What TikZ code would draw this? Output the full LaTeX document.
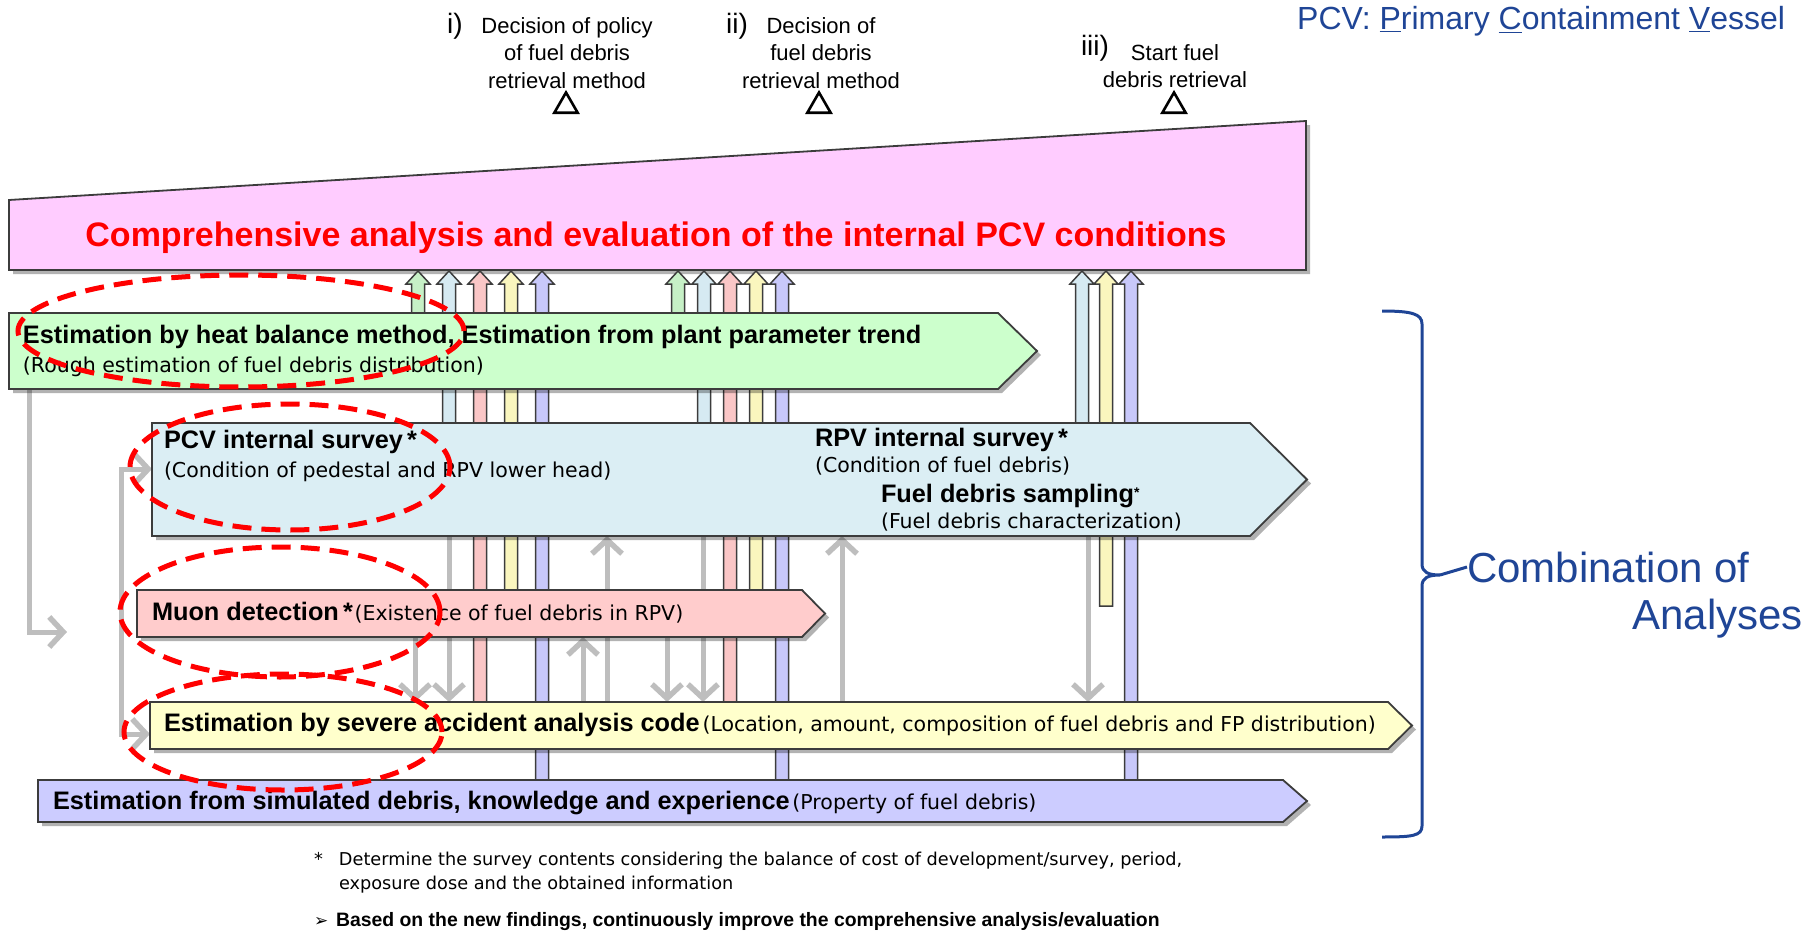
\documentclass[tikz,border=0pt]{standalone}
\usepackage{fontspec}
\setmainfont{Liberation Sans}
\newfontfamily\dvsans{DejaVu Sans}
\usetikzlibrary{arrows.meta,calc,shadows,shapes.geometric}
\definecolor{cTitle}{RGB}{255,204,255}
\definecolor{cGreen}{RGB}{204,255,204}
\definecolor{cBlue}{RGB}{219,238,244}
\definecolor{cPink}{RGB}{255,204,204}
\definecolor{cYellow}{RGB}{255,255,204}
\definecolor{cPurple}{RGB}{204,204,255}
\definecolor{sGreen}{RGB}{198,240,198}
\definecolor{sBlue}{RGB}{214,234,242}
\definecolor{sPink}{RGB}{250,198,198}
\definecolor{sYellow}{RGB}{250,246,190}
\definecolor{sPurple}{RGB}{200,200,250}
\definecolor{cGrayArrow}{RGB}{190,190,190}
\definecolor{cNavy}{RGB}{31,69,150}
\definecolor{cRed}{RGB}{255,0,0}
\definecolor{cEdge}{RGB}{60,60,60}
\newcommand\boxbold{\fontsize{25.3}{30}\selectfont\bfseries}
\newcommand\boxreg{\dvsans\fontsize{20.5}{24}\selectfont\mdseries}
\newcommand\shaftup[3]{%
  \path (#1 |- #2) coordinate (sb) (#1 |- pinkbot) coordinate (st);
  \draw[shaft=#3] ($(sb)+(-6.5,0)$) -- ($(st)+(-6.5,13)$) -- ($(st)+(-12,13)$) -- (st)
     -- ($(st)+(12,13)$) -- ($(st)+(6.5,13)$) -- ($(sb)+(6.5,0)$) -- cycle;}
\begin{document}
\begin{tikzpicture}[x=1pt,y=-1pt,
  boxedge/.style={draw=cEdge, line width=1.8pt, line join=miter},
  shadowed/.style={drop shadow={shadow xshift=4pt, shadow yshift=-4pt, opacity=0.3, fill=black}},
  boxbody/.style={inner sep=0pt, outer sep=0pt, rectangle},
  shaft/.style={draw=cEdge, line width=1.5pt, fill=#1},
  grayline/.style={draw=cGrayArrow, line width=5pt},
  graytip/.tip={Straight Barb[length=14pt,width=30pt,line width=5.5pt]},
  grayarrow/.style={grayline, -graytip},
  graytwo/.style={grayline, graytip-graytip},
  lbl/.style={inner sep=0pt, outer sep=0pt, anchor=west},
  hl/.style={ellipse, draw=cRed, line width=5pt, dash pattern=on 19pt off 10pt, inner sep=0pt},
  mile/.style={inner sep=0pt, align=center, anchor=north, font=\fontsize{22}{27.5}\selectfont},
  mnum/.style={inner sep=0pt, font=\fontsize{28}{30}\selectfont},
  tri/.style={regular polygon, regular polygon sides=3, draw=black, line width=2.6pt, minimum size=27pt, inner sep=0pt},
]
\useasboundingbox (0,0) rectangle (1810,931);

% invisible box bodies
\node[boxbody, minimum width=989pt, minimum height=76pt] (greenB) at (503.5,351) {};
\node[boxbody, minimum width=1098pt, minimum height=113pt] (blueB) at (701,479.5) {};
\node[boxbody, minimum width=665pt, minimum height=47pt] (muonB) at (469.5,613.5) {};
\node[boxbody, minimum width=1238pt, minimum height=47pt] (yellowB) at (769,725.5) {};
\node[boxbody, minimum width=1245pt, minimum height=42pt] (purpleB) at (660.5,801) {};

% title trapezoid
\coordinate (pTL) at (9,200);
\coordinate (pTR) at (1306,121);
\coordinate (pBR) at (1306,270);
\coordinate (pBL) at (9,270);
\coordinate (pinkbot) at (0,271);
\draw[boxedge, fill=cTitle, shadowed] (pTL) -- (pTR) -- (pBR) -- (pBL) -- cycle;
\node[inner sep=0pt, font=\fontsize{34}{40}\selectfont\bfseries, text=cRed] (title) at (656,238)
  {Comprehensive analysis and evaluation of the internal PCV conditions};

% columns of shafts
\coordinate (g1a) at (418,0); \coordinate (g1b) at (449,0); \coordinate (g1c) at (480,0);
\coordinate (g1d) at (511,0); \coordinate (g1e) at (542,0);
\coordinate (g2a) at (678,0); \coordinate (g2b) at (704,0); \coordinate (g2c) at (730,0);
\coordinate (g2d) at (756,0); \coordinate (g2e) at (782,0);
\coordinate (g3b) at (1082,0); \coordinate (g3d) at (1106,0); \coordinate (g3e) at (1131,0);
\coordinate (yEnd) at (0,606);

\shaftup{g1a}{greenB.center}{sGreen}
\shaftup{g1b}{blueB.center}{sBlue}
\shaftup{g1c}{yellowB.center}{sPink}
\shaftup{g1d}{muonB.center}{sYellow}
\shaftup{g1e}{purpleB.center}{sPurple}
\shaftup{g2a}{greenB.center}{sGreen}
\shaftup{g2b}{blueB.center}{sBlue}
\shaftup{g2c}{yellowB.center}{sPink}
\shaftup{g2d}{muonB.center}{sYellow}
\shaftup{g2e}{purpleB.center}{sPurple}
\shaftup{g3b}{blueB.center}{sBlue}
\shaftup{g3d}{yEnd}{sYellow}
\shaftup{g3e}{purpleB.center}{sPurple}

% gray arrows
\coordinate (a1) at (415,0); \coordinate (a2) at (449,0); \coordinate (a3) at (583,0);
\coordinate (a4) at (607,0); \coordinate (a5) at (667,0); \coordinate (a6) at (703,0);
\coordinate (a7) at (842,0); \coordinate (a8) at (1088,0);
\draw[grayarrow] (a1 |- muonB.south) -- (a1 |- yellowB.north);
\draw[grayarrow] (a2 |- blueB.south) -- (a2 |- yellowB.north);
\draw[grayarrow] (a3 |- yellowB.north) -- (a3 |- muonB.south);
\draw[grayarrow] (a4 |- yellowB.north) -- (a4 |- blueB.south);
\draw[grayarrow] (a5 |- muonB.south) -- (a5 |- yellowB.north);
\draw[grayarrow] (a6 |- blueB.south) -- (a6 |- yellowB.north);
\draw[grayarrow] (a7 |- yellowB.north) -- (a7 |- blueB.south);
\draw[grayarrow] (a8 |- blueB.south) -- (a8 |- yellowB.north);

\coordinate (lgx) at (29,0);
\coordinate (lgEnd) at (67,632);
\draw[grayarrow] (lgx |- greenB.south) |- (lgEnd);
\coordinate (brTop) at (152,469);
\coordinate (brCorner) at (121,734);
\coordinate (brBot) at (150,734);
\draw[graytwo] (brTop) -| (brCorner) -- (brBot);

% boxes
\draw[boxedge, fill=cGreen, shadowed] (greenB.north west) -- (greenB.north east) -- ($(greenB.east)+(39,0)$) -- (greenB.south east) -- (greenB.south west) -- cycle;
\draw[boxedge, fill=cBlue, shadowed] (blueB.north west) -- (blueB.north east) -- ($(blueB.east)+(57,0)$) -- (blueB.south east) -- (blueB.south west) -- cycle;
\draw[boxedge, fill=cPink, shadowed] (muonB.north west) -- (muonB.north east) -- ($(muonB.east)+(23,0)$) -- (muonB.south east) -- (muonB.south west) -- cycle;
\draw[boxedge, fill=cYellow, shadowed] (yellowB.north west) -- (yellowB.north east) -- ($(yellowB.east)+(24,0)$) -- (yellowB.south east) -- (yellowB.south west) -- cycle;
\draw[boxedge, fill=cPurple, shadowed] (purpleB.north west) -- (purpleB.north east) -- ($(purpleB.east)+(24,0)$) -- (purpleB.south east) -- (purpleB.south west) -- cycle;

% box texts
\node[lbl] (tGreen1) at (23,337) {\boxbold Estimation by heat balance method, Estimation from plant parameter trend};
\node[lbl] (tGreen2) at (23,367) {\boxreg (Rough estimation of fuel debris distribution)};
\node[lbl] (tPCV1) at (164,442) {\boxbold PCV internal survey\,*};
\node[lbl] (tPCV2) at (164,472) {\boxreg (Condition of pedestal and RPV lower head)};
\node[lbl] (tRPV1) at (815,440) {\boxbold RPV internal survey\,*};
\node[lbl] (tRPV2) at (815,466) {\boxreg (Condition of fuel debris)};
\node[lbl] (tFDS1) at (881,496) {\boxbold Fuel debris sampling\raisebox{5pt}{\fontsize{14}{14}\selectfont *}};
\node[lbl] (tFDS2) at (881,522) {\boxreg (Fuel debris characterization)};
\node[lbl] (tMuon) at (152,613) {{\boxbold Muon detection\,*}\,{\boxreg(Existence of fuel debris in RPV)}};
\node[lbl] (tSAC) at (164,725) {{\boxbold Estimation by severe accident analysis code}\ {\boxreg(Location, amount, composition of fuel debris and FP distribution)}};
\node[lbl] (tSim) at (53,803) {{\boxbold Estimation from simulated debris, knowledge and experience}\ {\boxreg(Property of fuel debris)}};

% milestones
\node[mnum] (n1) at (455,26) {i)};
\node[mile] (m1) at (567,17) {Decision of policy\\of fuel debris\\retrieval method};
\node[mnum] (n2) at (737,26) {ii)};
\node[mile] (m2) at (821,17) {Decision of\\fuel debris\\retrieval method};
\node[mnum] (n3) at (1095,48) {iii)};
\node[mile] (m3) at (1175,44) {Start fuel\\debris retrieval};
\node[tri] (t1) at (566,106) {};
\node[tri] (t2) at (819,106) {};
\node[tri] (t3) at (1174,106) {};

% legend
\node[inner sep=0pt, anchor=base west, text=cNavy, font=\fontsize{32}{36}\selectfont] (legend) at (1297,30)
  {PCV: \underline{P}rimary \underline{C}ontainment \underline{V}essel};

% brace and label
\node[lbl, text=cNavy, font=\fontsize{42}{48}\selectfont] (comb1) at (1467,567) {Combination of};
\node[inner sep=0pt, anchor=east, text=cNavy, font=\fontsize{42}{48}\selectfont] (comb2) at (1803,619) {Analyses};
\coordinate (brcTop) at (1382,311);
\coordinate (brcTip) at (1440,575);
\coordinate (brcBot) at (1382,837);
\draw[cNavy, line width=3pt] (brcTop) .. controls (1412,311) and (1422,314) .. (1422,324) -- (1422,564)
  .. controls (1422,572) and (1428,575) .. (brcTip)
  .. controls (1428,575) and (1422,578) .. (1422,586) -- (1422,826)
  .. controls (1422,836) and (1412,837) .. (brcBot);
\draw[cNavy, line width=3pt] (brcTip) -- (comb1.west);

% highlight ellipses
\node[hl, minimum width=446pt, minimum height=112pt] (e1) at (241,331) {};
\node[hl, minimum width=320pt, minimum height=126pt] (e2) at (290,467) {};
\node[hl, minimum width=320pt, minimum height=130pt] (e3) at (280,612) {};
\node[hl, minimum width=318pt, minimum height=116pt] (e4) at (283,732) {};

% footnotes
\node[lbl, font=\dvsans\fontsize{17.7}{24}\selectfont] (fn1) at (314,861)
  {\makebox[25pt][l]{*}Determine the survey contents considering the balance of cost of development/survey, period,};
\node[lbl, font=\dvsans\fontsize{17.7}{24}\selectfont] (fn2) at (339,885) {exposure dose and the obtained information};
\node[lbl] (fn3) at (314,922) {\makebox[22pt][l]{\dvsans\fontsize{17}{20}\selectfont ➢}{\fontsize{19.4}{24}\selectfont\bfseries Based on the new findings, continuously improve the comprehensive analysis/evaluation}};
\end{tikzpicture}
\end{document}
